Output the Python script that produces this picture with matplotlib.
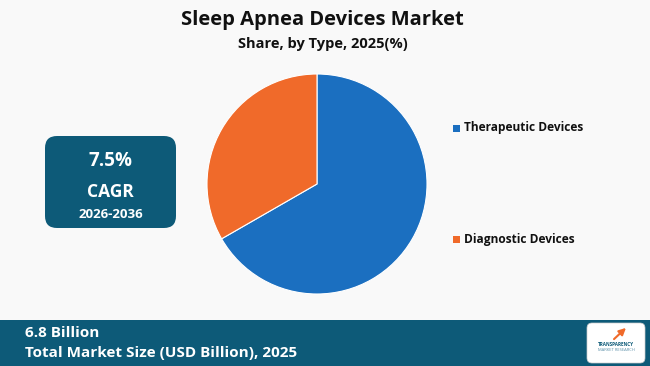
import matplotlib
matplotlib.use("Agg")
import matplotlib.pyplot as plt
from matplotlib.patches import FancyBboxPatch, Rectangle

categories = ["Therapeutic Devices", "Diagnostic Devices"]
shares = [66.7, 33.3]
colors = ["#1b6fc0", "#f06a2a"]
title = "Sleep Apnea Devices Market"
subtitle = "Share, by Type, 2025(%)"
cagr = "7.5%"
cagr_period = "2026-2036"
market_size = "6.8 Billion"
market_label = "Total Market Size (USD Billion), 2025"

plt.rcParams['font.family'] = ['Open Sans', 'DejaVu Sans']
W, H = 650, 366
fig = plt.figure(figsize=(6.5, 3.66), dpi=100, facecolor="#f9f9f9")

bg = fig.add_axes([0, 0, 1, 1])
bg.set_xlim(0, W); bg.set_ylim(H, 0); bg.axis("off")
bg.set_facecolor("#f9f9f9")

# title
bg.text(322, 20, title, ha="center", va="center", fontsize=14.5, fontweight="bold", color="#111111")
bg.text(323, 44, subtitle, ha="center", va="center", fontsize=10.5, fontweight="bold", color="#111111")

# CAGR box
bg.add_patch(FancyBboxPatch((45, 136), 131, 92, boxstyle="round,pad=0,rounding_size=12",
                            facecolor="#0d5a78", edgecolor="none"))
bg.text(110.5, 161, cagr, ha="center", va="center", fontsize=13.5, color="white", fontweight="bold")
bg.text(110.5, 192, "CAGR", ha="center", va="center", fontsize=12.5, color="white", fontweight="bold")
bg.text(110.5, 214, cagr_period, ha="center", va="center", fontsize=9.5, color="white", fontweight="bold")

# bottom banner
bg.add_patch(Rectangle((0, 320), W, 46, facecolor="#0d5a78", edgecolor="none"))
bg.text(25, 333, market_size, ha="left", va="center", fontsize=11, color="white", fontweight="bold")
bg.text(25, 353, market_label, ha="left", va="center", fontsize=11, color="white", fontweight="bold")
bg.add_patch(FancyBboxPatch((587, 323), 58, 40, boxstyle="round,pad=0,rounding_size=5",
                            facecolor="white", edgecolor="#cccccc", lw=0.5))
bg.text(616, 344, "TRANSPARENCY", ha="center", va="center", fontsize=3.3, color="#0d5a78", fontweight="bold")
bg.text(616, 350, "MARKET RESEARCH", ha="center", va="center", fontsize=3.0, color="#5a8fa8")
bg.annotate("", xy=(628, 326), xytext=(612, 341),
            arrowprops=dict(arrowstyle="-|>", color="#f06a2a", lw=1.5))

# pie
cx, cy, r = 317, 184, 110
ax = fig.add_axes([(cx - r) / W, 1 - (cy + r) / H, 2 * r / W, 2 * r / H])
ax.pie(shares, colors=colors, startangle=90, counterclock=False,
       wedgeprops=dict(edgecolor="white", linewidth=0.8))
ax.set_aspect("auto")
ax.set_xlim(-1, 1); ax.set_ylim(-1, 1)
bg.text(366, 167, f"{shares[0]}%", ha="center", va="center", fontsize=14, color="white")

# legend
for i, (cat, col) in enumerate(zip(categories, colors)):
    y = 128 + i * 111
    bg.add_patch(Rectangle((453, y - 3.5), 7, 7, facecolor=col, edgecolor="none"))
    bg.text(464, y, cat, ha="left", va="center", fontsize=8.6, fontweight="bold", color="#111111")

fig.savefig("out.png", dpi=100, facecolor=fig.get_facecolor())
